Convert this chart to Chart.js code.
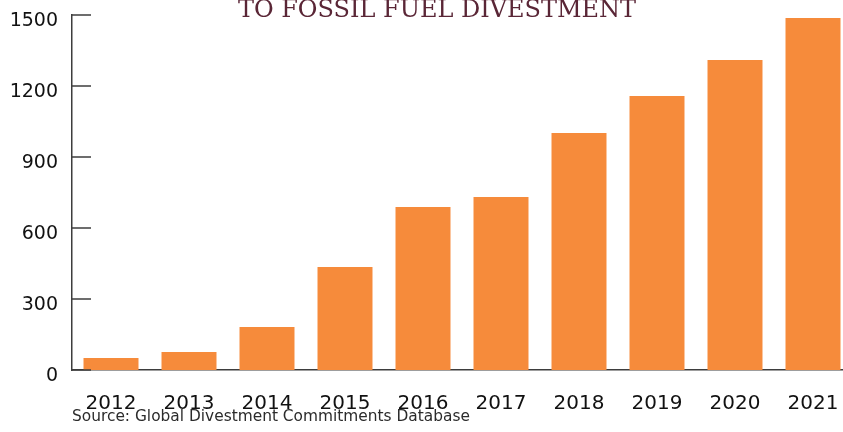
<!DOCTYPE html>
<html lang="en">
<head>
  <meta charset="UTF-8" />
  <title>Fossil Fuel Divestment Commitments</title>
  <script src="https://cdn.jsdelivr.net/npm/chart.js"></script>
  <style>
    html, body {
      margin: 0;
      padding: 0;
      background: #fff;
      overflow: hidden;
    }
    canvas {
      display: block;
    }
  </style>
</head>
<body>
  <canvas id="divestChart" width="852" height="432"></canvas>

  <script>
    const years = ['2012', '2013', '2014', '2015', '2016', '2017', '2018', '2019', '2020', '2021'];
    const commitments = [51, 76, 182, 435, 689, 731, 1001, 1158, 1310, 1487];
    const yTicks = [0, 300, 600, 900, 1200, 1500];

    const titleText = 'TO FOSSIL FUEL DIVESTMENT';
    const sourceText = 'Source: Global Divestment Commitments Database';

    const axisColor = '#3d3d3d';

    // short tick marks pointing into the plot, plus title and source line
    const extrasPlugin = {
      id: 'extras',
      afterDraw(chart) {
        const ctx = chart.ctx;
        const y = chart.scales.y;
        const left = chart.chartArea.left;

        ctx.save();
        ctx.strokeStyle = axisColor;
        ctx.lineWidth = 1.5;
        y.ticks.forEach(t => {
          const py = y.getPixelForValue(t.value);
          ctx.beginPath();
          ctx.moveTo(left, py);
          ctx.lineTo(left + 19, py);
          ctx.stroke();
        });

        ctx.fillStyle = '#5a2636';
        ctx.font = '24px "DejaVu Serif"';
        ctx.textAlign = 'center';
        ctx.textBaseline = 'alphabetic';
        ctx.fillText(titleText, 437, 17);

        ctx.fillStyle = '#2b2b2b';
        ctx.font = '15.4px "DejaVu Sans"';
        ctx.textAlign = 'left';
        ctx.fillText(sourceText, 72, 421);
        ctx.restore();
      }
    };

    const ctx = document.getElementById('divestChart').getContext('2d');

    new Chart(ctx, {
      type: 'bar',
      data: {
        labels: years,
        datasets: [{
          data: commitments,
          backgroundColor: '#f68b3b',
          categoryPercentage: 1,
          barPercentage: 0.705
        }]
      },
      options: {
        responsive: false,
        animation: false,
        layout: { padding: { top: 15, right: 0, bottom: 0, left: 0 } },
        plugins: {
          legend: { display: false },
          tooltip: { enabled: false }
        },
        scales: {
          x: {
            grid: { display: false, drawTicks: false },
            border: { display: true, color: axisColor, width: 1.5 },
            ticks: {
              color: '#111',
              font: { family: 'DejaVu Sans', size: 20 },
              padding: 22,
              maxRotation: 0
            },
            afterFit(scale) {
              scale.height = 62;
              scale.paddingLeft = 0;
              scale.paddingRight = 0;
            }
          },
          y: {
            min: 0,
            max: 1500,
            afterBuildTicks(scale) {
              scale.ticks = yTicks.map(v => ({ value: v }));
            },
            grid: { display: false, drawTicks: false },
            border: { display: true, color: axisColor, width: 1.5 },
            ticks: {
              color: '#111',
              font: { family: 'DejaVu Sans', size: 19 },
              padding: 14,
              labelOffset: 6,
              callback: v => String(v)
            },
            afterFit(scale) {
              scale.width = 72;
              scale.paddingTop = 0;
              scale.paddingBottom = 0;
            }
          }
        }
      },
      plugins: [extrasPlugin]
    });
  </script>
</body>
</html>
